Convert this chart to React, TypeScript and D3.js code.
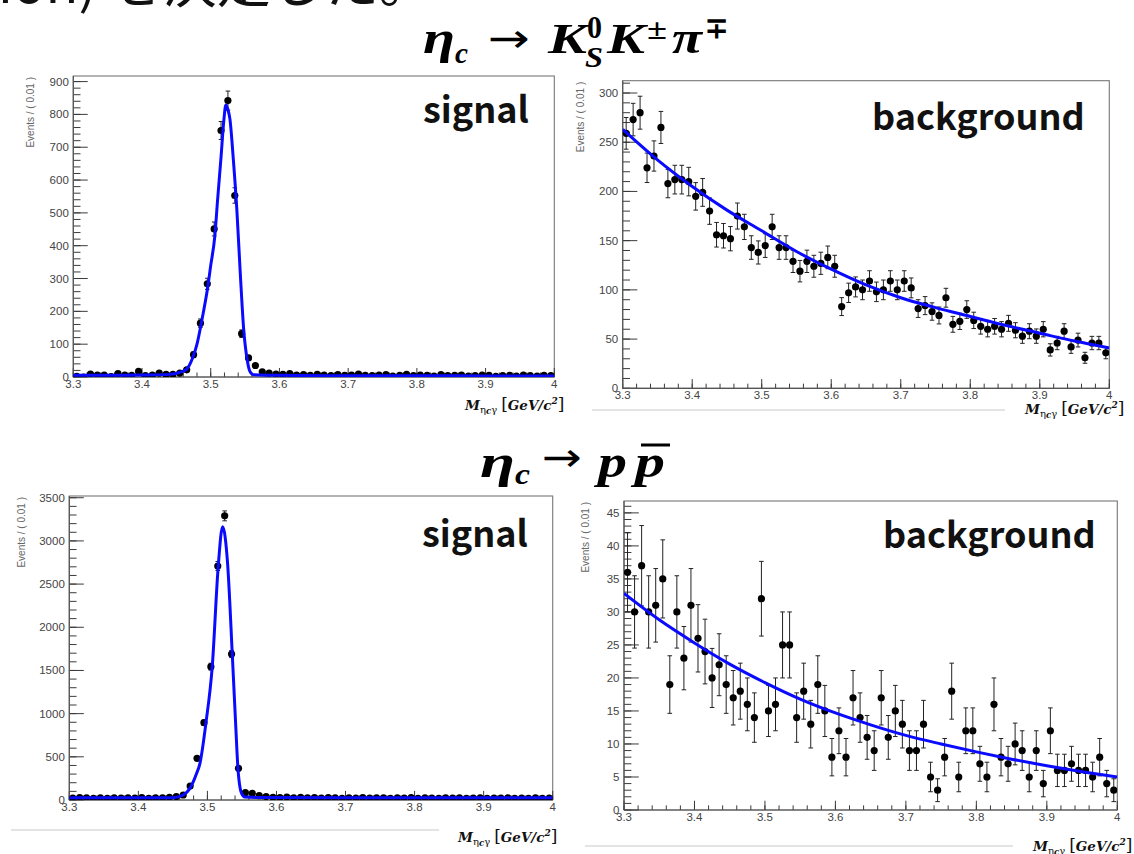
import React from "react";
import * as d3 from "d3";

// ---------- data ----------
const X_MIN = 3.3;
const X_MAX = 4.0;
const BIN_WIDTH = 0.01;
const N_BINS = 70;
const binCenters = d3.range(N_BINS).map((i) => X_MIN + BIN_WIDTH * (i + 0.5));

const xTickValues = [3.3, 3.4, 3.5, 3.6, 3.7, 3.8, 3.9, 4.0];
const xTickLabels = ["3.3", "3.4", "3.5", "3.6", "3.7", "3.8", "3.9", "4"];

const kskpiSignal = [
  2, 0, 9, 6, 6, 1, 10, 6, 5, 17, 4, 6, 12, 8, 8, 12, 22,
  68, 164, 284, 451, 751, 842, 553, 132, 58, 35, 16,
  12, 9, 8, 10, 6, 7, 5, 8, 6, 4, 7, 5, 6, 9, 5, 4, 6, 7, 3, 5,
  8, 4, 6, 5, 3, 7, 4, 5, 6, 3, 4, 6, 5, 2, 4, 5, 3, 6, 4, 3, 5, 4,
];
const kskpiSignalFit: [number, number][] = [
  [3.3, 5], [3.35, 5], [3.4, 6], [3.44, 8], [3.455, 14], [3.465, 24], [3.474, 60],
  [3.48, 100], [3.485, 150], [3.49, 205], [3.495, 265], [3.5, 340], [3.506, 430],
  [3.51, 540], [3.515, 670], [3.519, 780], [3.522, 829], [3.525, 815], [3.528, 785],
  [3.533, 660], [3.538, 510], [3.543, 316], [3.548, 144], [3.553, 53], [3.557, 17],
  [3.562, 7], [3.6, 5], [3.7, 4], [3.8, 4], [3.9, 3], [4.0, 3],
];

const kskpiBackground = [
  259, 273, 280, 224, 236, 265, 208, 212, 212, 210,
  195, 199, 180, 156, 155, 152, 175, 164, 143, 138,
  145, 164, 143, 143, 129, 119, 129, 124, 127, 133,
  124, 83, 97, 103, 100, 109, 98, 100, 109, 100,
  109, 102, 81, 84, 78, 74, 92, 65, 68, 80,
  69, 63, 60, 63, 60, 66, 59, 53, 58, 53,
  60, 39, 46, 58, 42, 49, 31, 46, 46, 36,
];
const kskpiBackgroundFit: [number, number][] = [
  [3.3, 263], [3.35, 232], [3.4, 205], [3.45, 181], [3.5, 160], [3.55, 139],
  [3.6, 121], [3.65, 105], [3.7, 92], [3.75, 82], [3.8, 73], [3.85, 64],
  [3.9, 56], [3.95, 48], [4.0, 41],
];

const ppSignal = [
  22, 28, 25, 20, 24, 18, 26, 21, 25, 23, 27, 20, 24, 26, 30,
  39, 58, 162, 482, 895, 1544, 2709, 3290, 1690, 367, 85, 77, 50,
  40, 32, 28, 35, 26, 30, 24, 28, 22, 27, 25, 20, 26, 23, 28, 21,
  25, 24, 19, 26, 22, 27, 20, 24, 23, 18, 25, 21, 26, 20, 22, 24,
  19, 23, 21, 25, 18, 22, 20, 24, 19, 22,
];
const ppSignalFit: [number, number][] = [
  [3.3, 25], [3.4, 25], [3.44, 25], [3.4506, 27], [3.465, 58], [3.4747, 135],
  [3.4844, 309], [3.4892, 425], [3.4979, 895], [3.507, 1544], [3.5157, 2709],
  [3.522, 3165], [3.5292, 2740], [3.536, 1690], [3.5413, 810], [3.5442, 367],
  [3.5495, 77], [3.5543, 35], [3.57, 30], [3.7, 27], [4.0, 25],
];

const ppBackground = [
  36, 30, 37, 30, 31, 35, 19, 30, 23, 31,
  26, 24, 20, 22, 19, 17, 18, 16, 14, 32,
  15, 16, 25, 25, 14, 18, 13, 19, 15, 8,
  12, 8, 17, 14, 11, 9, 17, 11, 15, 13,
  9, 9, 13, 5, 3, 8, 18, 5, 12, 12,
  7, 5, 16, 8, 7, 10, 9, 5, 9, 4,
  12, 6, 6, 7, 6, 6, 5, 8, 4, 3,
];
const ppBackgroundFit: [number, number][] = [
  [3.3, 32.8], [3.35, 28.8], [3.4, 25.3], [3.45, 22.1], [3.5, 19.3], [3.55, 16.8],
  [3.6, 14.7], [3.65, 12.9], [3.7, 11.3], [3.75, 10], [3.8, 8.8], [3.85, 7.7],
  [3.9, 6.7], [3.95, 5.8], [4.0, 5.0],
];

const yTicksKskpiSignal = [0, 100, 200, 300, 400, 500, 600, 700, 800, 900];
const yTicksKskpiBackground = [0, 50, 100, 150, 200, 250, 300];
const yTicksPpSignal = [0, 500, 1000, 1500, 2000, 2500, 3000, 3500];
const yTicksPpBackground = [0, 5, 10, 15, 20, 25, 30, 35, 40, 45];

const yAxisTitle = "Events / ( 0.01 )";

// ---------- layout ----------
type Cfg = {
  id: string;
  left: number; top: number; right: number; bottom: number;
  yMax: number; yMinor: number;
  yTitleX: number;
  label: string; labelX: number; labelY: number;
  xtX: number; xtY: number;
};

const panels: { cfg: Cfg; values: number[]; fit: [number, number][]; yTicks: number[] }[] = [
  {
    cfg: { id: "p1", left: 73.3, top: 76, right: 554.3, bottom: 377, yMax: 917, yMinor: 20, yTitleX: 34,
      label: "signal", labelX: 423, labelY: 123, xtX: 465, xtY: 410 },
    values: kskpiSignal, fit: kskpiSignalFit, yTicks: yTicksKskpiSignal,
  },
  {
    cfg: { id: "p2", left: 622.7, top: 80.7, right: 1109.3, bottom: 388.3, yMax: 312.5, yMinor: 10, yTitleX: 584,
      label: "background", labelX: 872, labelY: 130, xtX: 1025, xtY: 414 },
    values: kskpiBackground, fit: kskpiBackgroundFit, yTicks: yTicksKskpiBackground,
  },
  {
    cfg: { id: "p3", left: 69.3, top: 496, right: 552.7, bottom: 800, yMax: 3520, yMinor: 100, yTitleX: 25,
      label: "signal", labelX: 422, labelY: 547, xtX: 458, xtY: 842 },
    values: ppSignal, fit: ppSignalFit, yTicks: yTicksPpSignal,
  },
  {
    cfg: { id: "p4", left: 624, top: 501, right: 1117.3, bottom: 810, yMax: 46.8, yMinor: 1, yTitleX: 589,
      label: "background", labelX: 883, labelY: 548, xtX: 1033, xtY: 851 },
    values: ppBackground, fit: ppBackgroundFit, yTicks: yTicksPpBackground,
  },
];

function XTitle({ x, y }: { x: number; y: number }) {
  return (
    <text x={x} y={y} fontFamily="DejaVu Serif" fontSize={13.5} fontWeight="bold" fontStyle="italic" fill="#111">
      M
      <tspan fontSize={10} dy={3} fontWeight="normal" fontStyle="normal">η</tspan>
      <tspan fontSize={8.5} dy={1} fontWeight="bold" fontStyle="italic">c</tspan>
      <tspan fontSize={10} dy={-1} fontWeight="normal" fontStyle="normal">γ</tspan>
      <tspan dy={-3} dx={4} fontSize={17} fontWeight="normal" fontStyle="normal">[</tspan>
      <tspan>GeV/c</tspan>
      <tspan fontSize={9} dy={-6}>2</tspan>
      <tspan dy={6} fontSize={17} fontWeight="normal" fontStyle="normal">]</tspan>
    </text>
  );
}

function Panel({ cfg, values, fit, yTicks }: { cfg: Cfg; values: number[]; fit: [number, number][]; yTicks: number[] }) {
  const x = d3.scaleLinear().domain([X_MIN, X_MAX]).range([cfg.left, cfg.right]);
  const y = d3.scaleLinear().domain([0, cfg.yMax]).range([cfg.bottom, cfg.top]);
  const line = d3
    .line<[number, number]>()
    .x((d) => x(d[0]))
    .y((d) => y(d[1]))
    .curve(d3.curveMonotoneX);
  const xTickLen = 0.03 * (cfg.bottom - cfg.top);
  const yTickLen = 0.03 * (cfg.right - cfg.left);
  const xMinor = d3.range(0, 36).map((i) => X_MIN + i * 0.02);
  const yMinor = d3.range(0, Math.floor(cfg.yMax / cfg.yMinor) + 1).map((i) => i * cfg.yMinor);
  const tickColor = "#3a3a3a";
  const labelColor = "#444";
  return (
    <g>
      <defs>
        <clipPath id={`clip-${cfg.id}`}>
          <rect x={cfg.left} y={cfg.top} width={cfg.right - cfg.left} height={cfg.bottom - cfg.top} />
        </clipPath>
      </defs>
      <rect x={cfg.left} y={cfg.top} width={cfg.right - cfg.left} height={cfg.bottom - cfg.top}
        fill="#fff" stroke="#777" strokeWidth={1.1} />
      {xMinor.map((v, i) => (
        <line key={`xm${i}`} x1={x(v)} x2={x(v)} y1={cfg.bottom} y2={cfg.bottom - xTickLen / 2}
          stroke={tickColor} strokeWidth={1} />
      ))}
      {xTickValues.map((v, i) => (
        <line key={`xM${i}`} x1={x(v)} x2={x(v)} y1={cfg.bottom} y2={cfg.bottom - xTickLen}
          stroke={tickColor} strokeWidth={1} />
      ))}
      {xTickValues.map((v, i) => (
        <text key={`xl${i}`} x={x(v)} y={cfg.bottom + 11} textAnchor="middle"
          fontFamily="Liberation Sans" fontSize={11.5} fill={labelColor}>
          {xTickLabels[i]}
        </text>
      ))}
      {yMinor.map((v, i) => (
        <line key={`ym${i}`} x1={cfg.left} x2={cfg.left + yTickLen / 2} y1={y(v)} y2={y(v)}
          stroke={tickColor} strokeWidth={1} />
      ))}
      {yTicks.map((v, i) => (
        <line key={`yM${i}`} x1={cfg.left} x2={cfg.left + yTickLen} y1={y(v)} y2={y(v)}
          stroke={tickColor} strokeWidth={1} />
      ))}
      {yTicks.map((v, i) => (
        <text key={`yl${i}`} x={cfg.left - 4.5} y={y(v) + 4} textAnchor="end"
          fontFamily="Liberation Sans" fontSize={11.5} fill={labelColor}>
          {String(v)}
        </text>
      ))}
      <line x1={cfg.left} x2={cfg.right} y1={cfg.bottom} y2={cfg.bottom} stroke="#555" strokeWidth={1.2} />
      <line x1={cfg.left} x2={cfg.left} y1={cfg.top} y2={cfg.bottom} stroke="#555" strokeWidth={1.2} />
      <text transform={`translate(${cfg.yTitleX},${cfg.top + 1}) rotate(-90)`} textAnchor="end"
        fontFamily="Liberation Sans" fontSize={10} fill="#666">
        {yAxisTitle}
      </text>
      <g clipPath={`url(#clip-${cfg.id})`}>
        {values.map((v, i) => {
          const cx = x(binCenters[i]);
          const err = Math.sqrt(v);
          const y1 = y(v + err);
          const y0 = y(Math.max(0, v - err));
          return (
            <g key={`pt${i}`}>
              <line x1={cx} x2={cx} y1={y0} y2={y1} stroke="#222" strokeWidth={1} />
              <line x1={cx - 2.3} x2={cx + 2.3} y1={y1} y2={y1} stroke="#222" strokeWidth={1} />
              <line x1={cx - 2.3} x2={cx + 2.3} y1={y0} y2={y0} stroke="#222" strokeWidth={1} />
              <circle cx={cx} cy={y(v)} r={3.6} fill="#000" />
            </g>
          );
        })}
        <path d={line(fit) || ""} fill="none" stroke="#0a0aff" strokeWidth={3} />
      </g>
      <text x={cfg.labelX} y={cfg.labelY} fontFamily="Noto Sans CJK JP" fontWeight="bold" fontSize={36} fill="#111">
        {cfg.label}
      </text>
      <XTitle x={cfg.xtX} y={cfg.xtY} />
    </g>
  );
}

const serif = "Liberation Serif";

function Title1() {
  return (
    <g fill="#000" fontFamily={serif} fontWeight="bold" fontStyle="italic">
      <text x={423} y={53} fontSize={46} textLength={32} lengthAdjust="spacingAndGlyphs">η</text>
      <text x={455} y={63} fontSize={30} textLength={13} lengthAdjust="spacingAndGlyphs">c</text>
      <text x={488} y={52} fontSize={40} fontFamily="DejaVu Sans" fontWeight="normal" fontStyle="normal"
        textLength={42} lengthAdjust="spacingAndGlyphs">→</text>
      <text x={548} y={53} fontSize={42} textLength={39} lengthAdjust="spacingAndGlyphs">K</text>
      <text x={585} y={67} fontSize={29} textLength={18} lengthAdjust="spacingAndGlyphs">S</text>
      <text x={587} y={38} fontSize={31} fontStyle="normal" textLength={15} lengthAdjust="spacingAndGlyphs">0</text>
      <text x={607} y={53} fontSize={42} textLength={38} lengthAdjust="spacingAndGlyphs">K</text>
      <text x={647} y={39} fontSize={29} fontStyle="normal" textLength={20} lengthAdjust="spacingAndGlyphs">±</text>
      <text x={672} y={53} fontSize={46} textLength={30} lengthAdjust="spacingAndGlyphs">π</text>
      <text x={705} y={38} fontSize={29} fontStyle="normal" textLength={23} lengthAdjust="spacingAndGlyphs">∓</text>
    </g>
  );
}

function Title2() {
  return (
    <g fill="#000" fontFamily={serif} fontWeight="bold" fontStyle="italic">
      <text x={480} y={477} fontSize={46} textLength={35} lengthAdjust="spacingAndGlyphs">η</text>
      <text x={515} y={484} fontSize={30} textLength={15} lengthAdjust="spacingAndGlyphs">c</text>
      <text x={542} y={471} fontSize={40} fontFamily="DejaVu Sans" fontWeight="normal" fontStyle="normal"
        textLength={40} lengthAdjust="spacingAndGlyphs">→</text>
      <text x={598} y={477} fontSize={46} textLength={29} lengthAdjust="spacingAndGlyphs">p</text>
      <text x={635} y={477} fontSize={46} textLength={30} lengthAdjust="spacingAndGlyphs">p</text>
      <line x1={641} x2={670} y1={445} y2={445} stroke="#000" strokeWidth={3} />
    </g>
  );
}

export default function App() {
  return (
    <svg width={1134} height={854} viewBox="0 0 1134 854"
      style={{ position: "absolute", left: 0, top: 0, background: "#fff" }}>
      <rect x={0} y={0} width={1134} height={854} fill="#fff" />
      <text x={-2} y={3} fontFamily="Noto Sans CJK JP" fontSize={54} fill="#111">ion) を決定した。</text>
      <line x1={592} x2={1005} y1={410} y2={410} stroke="#c8c8c8" strokeWidth={1} />
      <line x1={11} x2={439} y1={830} y2={830} stroke="#c8c8c8" strokeWidth={1} />
      <line x1={585} x2={1013} y1={846} y2={846} stroke="#c8c8c8" strokeWidth={1} />
      <Title1 />
      <Title2 />
      {panels.map((p) => (
        <Panel key={p.cfg.id} cfg={p.cfg} values={p.values} fit={p.fit} yTicks={p.yTicks} />
      ))}
    </svg>
  );
}
